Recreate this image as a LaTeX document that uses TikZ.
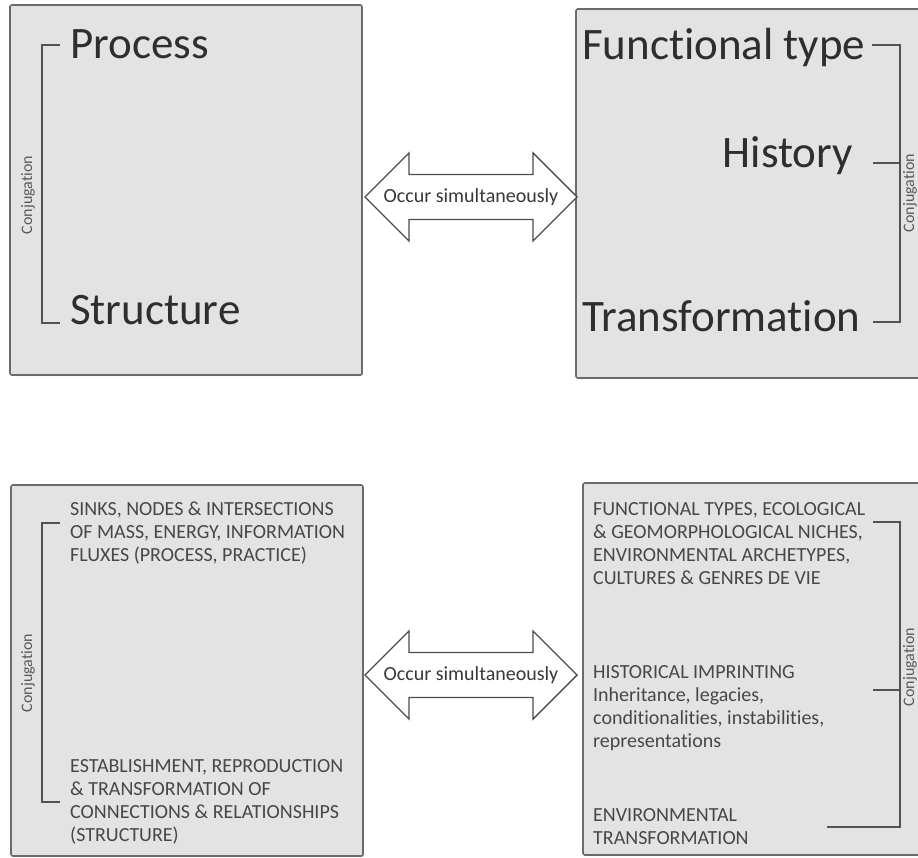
\documentclass[tikz,border=0pt]{standalone}
\usepackage{fontspec}
\setmainfont{Carlito}[Ligatures=NoCommon,RawFeature={-liga;-calt;-clig}]
\usetikzlibrary{calc,shadows}

\begin{document}
\begin{tikzpicture}[x=1pt,y=-1pt,
  panel/.style={draw=black!58,line width=1.6pt,fill=black!11,inner sep=0pt,rounded corners=2pt,
    drop shadow={shadow xshift=0.8pt,shadow yshift=-1.2pt,opacity=0.35}},
  bigtxt/.style={font=\fontsize{45}{50}\selectfont,text=black!82,inner sep=0pt},
  capstxt/.style={font=\fontsize{20}{23}\selectfont,text=black!72,inner sep=0pt,align=left},
  brack/.style={draw=black!68,line width=1.4pt},
  conj/.style={font=\fontsize{16}{18}\selectfont,text=black!65,rotate=90,inner sep=0pt},
  twoway/.style={draw=black!70,line width=1.4pt,fill=white,line join=miter},
  arrtxt/.style={font=\fontsize{20}{22}\selectfont,text=black!78,inner sep=0pt}]
  \useasboundingbox (0,0) rectangle (918,858);
  \clip (0,0) rectangle (918,858);
  % Panels
  \node[panel,minimum width=352pt,minimum height=370pt] (tl) at (186,190) {};
  \node[panel,minimum width=354pt,minimum height=369pt] (tr) at (753,193.5) {};
  \node[panel,minimum width=352pt,minimum height=371pt] (bl) at (187,670.5) {};
  \node[panel,minimum width=352pt,minimum height=372pt] (br) at (759,669) {};
  % Double arrows between the panels
  \coordinate (a1) at (471,197);
  \coordinate (a2) at (471,675);
  \foreach \c in {a1,a2}{
    \draw[twoway] (\c) ++(-106,0) -- ++(44,-44) -- ++(0,21.5) -- ++(124,0) -- ++(0,-21.5)
      -- ++(44,44) -- ++(-44,44) -- ++(0,-21.5) -- ++(-124,0) -- ++(0,21.5) -- cycle;
    \node[arrtxt] (s\c) at (\c) {Occur simultaneously};
  }
  % Top left
  \node[bigtxt,anchor=base west] (proc) at (70,59) {Process};
  \node[bigtxt,anchor=base west] (struc) at (70,325) {Structure};
  \draw[brack] (60,45) -- (42,45) -- (42,323) -- (60,323);
  \node[conj] (cj1) at (28,195) {Conjugation};
  % Top right
  \node[bigtxt,anchor=base west] (ftype) at (582,60) {Functional type};
  \node[bigtxt,anchor=base east] (hist) at (853,168) {History};
  \node[bigtxt,anchor=base west] (trans) at (582,332) {Transformation};
  \draw[brack] (872,45) -- (900,45) -- (900,322) -- (873,322);
  \draw[brack] (873,163) -- (900,163);
  \node[conj] (cj2) at (910,193) {Conjugation};
  % Bottom left
  \node[capstxt,anchor=north west] (sinks) at (70,502)
    {SINKS, NODES \& INTERSECTIONS\\OF MASS, ENERGY, INFORMATION\\FLUXES (PROCESS, PRACTICE)};
  \node[capstxt,anchor=north west] (estab) at (70,759)
    {ESTABLISHMENT, REPRODUCTION\\\& TRANSFORMATION OF\\CONNECTIONS \& RELATIONSHIPS\\(STRUCTURE)};
  \draw[brack] (60,523) -- (42,523) -- (42,802) -- (60,802);
  \node[conj] (cj3) at (28,673) {Conjugation};
  % Bottom right
  \node[capstxt,anchor=north west] (ftypes) at (593,502)
    {FUNCTIONAL TYPES, ECOLOGICAL\\\& GEOMORPHOLOGICAL NICHES,\\ENVIRONMENTAL ARCHETYPES,\\CULTURES \& GENRES DE VIE};
  \node[capstxt,anchor=north west] (imprint) at (593,665)
    {HISTORICAL IMPRINTING\\Inheritance, legacies,\\conditionalities, instabilities,\\representations};
  \node[capstxt,anchor=north west] (envtr) at (593,808)
    {ENVIRONMENTAL\\TRANSFORMATION};
  \draw[brack] (873,522) -- (900,522) -- (900,827) -- (827,827);
  \draw[brack] (873,690) -- (900,690);
  \node[conj] (cj4) at (910,667) {Conjugation};
\end{tikzpicture}
\end{document}
